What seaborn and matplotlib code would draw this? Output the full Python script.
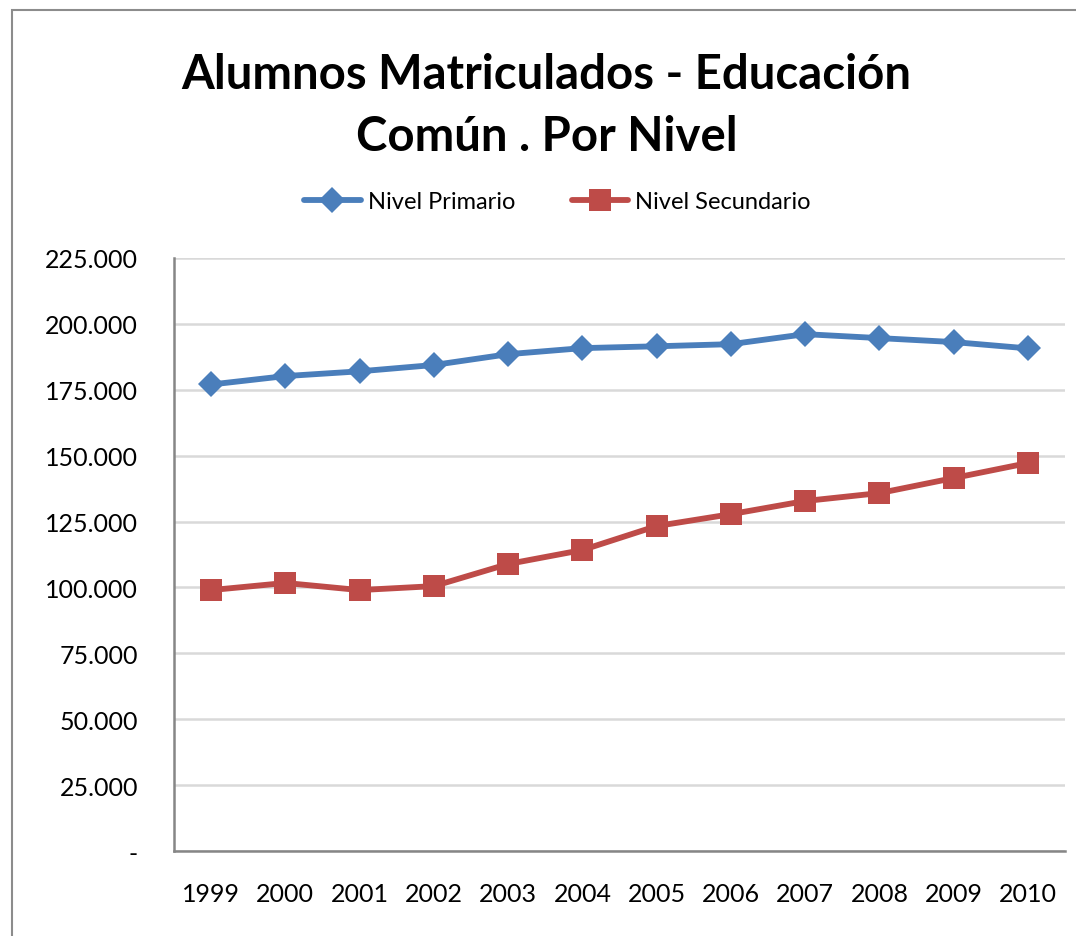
import pandas as pd
import seaborn as sns
import matplotlib.pyplot as plt
from matplotlib.ticker import FuncFormatter, FixedLocator
from matplotlib.patches import Rectangle

years = [1999, 2000, 2001, 2002, 2003, 2004, 2005, 2006, 2007, 2008, 2009, 2010]
primario = [177000, 180200, 182000, 184400, 188500, 190800, 191500, 192300, 196100, 194600, 193100, 190700]
secundario = [99000, 101700, 99000, 100500, 108900, 114200, 123300, 127800, 132800, 135800, 141500, 147200]
series_names = ['Nivel Primario', 'Nivel Secundario']
y_ticks = [0, 25000, 50000, 75000, 100000, 125000, 150000, 175000, 200000, 225000]

df = pd.DataFrame({'Año': years * 2,
                   'Alumnos': primario + secundario,
                   'Nivel': [series_names[0]] * len(years) + [series_names[1]] * len(years)})

sns.set_style('white')
plt.rcParams['font.family'] = ['Lato', 'DejaVu Sans']
plt.rcParams['text.color'] = 'black'
plt.rcParams['xtick.color'] = 'black'
plt.rcParams['ytick.color'] = 'black'

fig = plt.figure(figsize=(10.76, 9.37), dpi=100)
ax = fig.add_axes([0.1617, 0.0907, 0.8281, 0.6329])

sns.lineplot(data=df, x='Año', y='Alumnos', hue='Nivel', style='Nivel',
             palette=['#4A7EBB', '#BE4B48'], markers=['D', 's'], dashes=False,
             markeredgewidth=0, ax=ax, legend=False)
for line, ms in zip(ax.lines, [13, 15.5]):
    line.set_markersize(ms)
    line.set_linewidth(4.2)

# Excel-style category axis: tick marks between categories, labels centred
ax.set_xlim(years[0] - 0.5, years[-1] + 0.5)
ax.xaxis.set_major_locator(FixedLocator([y - 0.5 for y in years] + [years[-1] + 0.5]))
ax.xaxis.set_minor_locator(FixedLocator(years))
ax.xaxis.set_major_formatter(FuncFormatter(lambda v, p: ''))
ax.xaxis.set_minor_formatter(FuncFormatter(lambda v, p: str(int(round(v)))))
ax.tick_params(axis='x', which='major', direction='inout', length=12, width=1.5, color='#868686')
ax.tick_params(axis='x', which='minor', length=0, pad=22, labelsize=18, labelcolor='black')

ax.set_ylim(0, 225000)
ax.set_yticks(y_ticks)
ax.yaxis.set_major_formatter(FuncFormatter(
    lambda v, p: '-' if v == 0 else f'{int(v):,}'.replace(',', '.')))
ax.tick_params(axis='y', length=0, pad=26, labelsize=18, labelcolor='black')

ax.grid(axis='y', color='#D9D9D9', linewidth=1.8)
ax.set_axisbelow(True)
for side in ['top', 'right']:
    ax.spines[side].set_visible(False)
for side in ['left', 'bottom']:
    ax.spines[side].set_color('#868686')
    ax.spines[side].set_linewidth(1.8)
ax.set_xlabel('')
ax.set_ylabel('')

fig.text(0.508, 0.887, 'Alumnos Matriculados - Educación\nComún . Por Nivel',
         ha='center', va='center', fontsize=34, fontweight='bold', linespacing=1.5,
         color='black')

handles = ax.lines[:2]
fig.legend(handles, series_names, loc='center', bbox_to_anchor=(0.518, 0.784), ncol=2,
           frameon=False, fontsize=17, handlelength=2.4, columnspacing=2.4, handletextpad=0.3)

# chart area border
fig.patches.append(Rectangle((0.011, -0.05), 1.2, 1.038, transform=fig.transFigure,
                             fill=False, edgecolor='#8C8C8C', linewidth=1.5))

fig.savefig('out.png', dpi=100)
